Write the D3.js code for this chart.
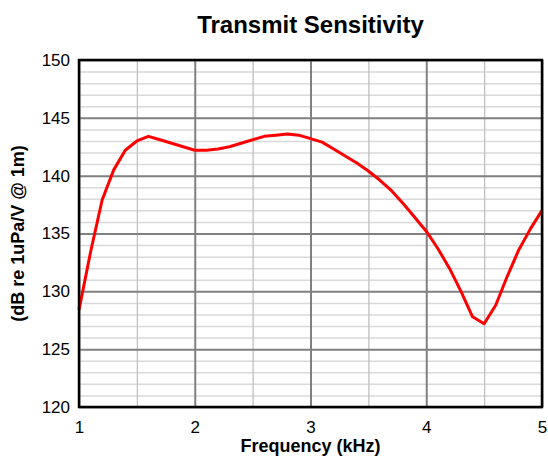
<!DOCTYPE html>
<html>
<head>
<meta charset="utf-8">
<script src="https://cdn.jsdelivr.net/npm/d3@7/dist/d3.min.js"></script>
<style>
  html, body { margin: 0; padding: 0; background: #fff; }
  svg { display: block; font-family: "Liberation Sans", Arial, Helvetica, sans-serif; }
</style>
</head>
<body>
<svg id="chart" width="548" height="457"></svg>
<script>
// ---- data ----
const frequencyKHz = [1.0,1.1,1.2,1.3,1.4,1.5,1.6,1.7,1.8,1.9,2.0,2.1,2.2,2.3,2.4,2.5,2.6,2.7,2.8,2.9,3.0,
                      3.1,3.2,3.3,3.4,3.5,3.6,3.7,3.8,3.9,4.0,4.1,4.2,4.3,4.4,4.5,4.6,4.7,4.8,4.9,5.0];
const sensitivityDB = [128.4,133.4,137.9,140.5,142.2,143.0,143.4,143.1,142.8,142.5,142.2,142.2,142.3,142.5,142.8,143.1,143.4,143.5,143.6,143.5,143.2,
                       142.9,142.3,141.7,141.1,140.4,139.6,138.7,137.6,136.4,135.2,133.7,132.0,130.0,127.8,127.2,128.8,131.3,133.6,135.4,137.0];
const xTicks = [1, 2, 3, 4, 5];
const xMinorTicks = [1.5, 2.5, 3.5, 4.5];
const yTicks = [120, 125, 130, 135, 140, 145, 150];
const yMinorTicks = d3.range(121, 150).filter(v => v % 5 !== 0);
const titleText = "Transmit Sensitivity";
const xLabel = "Frequency (kHz)";
const yLabel = "(dB re 1uPa/V @ 1m)";

// ---- layout ----
const svg = d3.select("#chart");
const pLeft = 79, pRight = 542, pTop = 60, pBottom = 407;

const x = d3.scaleLinear().domain([1, 5]).range([pLeft, pRight]);
const y = d3.scaleLinear().domain([120, 150]).range([pBottom, pTop]);

// minor horizontal grid
svg.append("g")
  .attr("transform", `translate(${pLeft},0)`)
  .call(d3.axisLeft(y).tickValues(yMinorTicks).tickSize(-(pRight - pLeft)).tickFormat(""))
  .call(g => g.select(".domain").remove())
  .call(g => g.selectAll("line").attr("stroke", "#d9d9d9").attr("stroke-width", 1.5));

// minor vertical grid
svg.append("g")
  .attr("transform", `translate(0,${pBottom})`)
  .call(d3.axisBottom(x).tickValues(xMinorTicks).tickSize(-(pBottom - pTop)).tickFormat(""))
  .call(g => g.select(".domain").remove())
  .call(g => g.selectAll("line").attr("stroke", "#c0c0c0").attr("stroke-width", 1.3));

// major horizontal grid
svg.append("g")
  .attr("transform", `translate(${pLeft},0)`)
  .call(d3.axisLeft(y).tickValues(yTicks).tickSize(-(pRight - pLeft)).tickFormat(""))
  .call(g => g.select(".domain").remove())
  .call(g => g.selectAll("line").attr("stroke", "#808080").attr("stroke-width", 2));

// major vertical grid
svg.append("g")
  .attr("transform", `translate(0,${pBottom})`)
  .call(d3.axisBottom(x).tickValues(xTicks).tickSize(-(pBottom - pTop)).tickFormat(""))
  .call(g => g.select(".domain").remove())
  .call(g => g.selectAll("line").attr("stroke", "#808080").attr("stroke-width", 2));

// curve
const line = d3.line()
  .x((d, i) => x(frequencyKHz[i]))
  .y(d => y(d));
svg.append("path")
  .datum(sensitivityDB)
  .attr("fill", "none")
  .attr("stroke", "#ff0000")
  .attr("stroke-width", 3)
  .attr("stroke-linejoin", "round")
  .attr("d", line);

// frame
svg.append("rect")
  .attr("x", pLeft).attr("y", pTop)
  .attr("width", pRight - pLeft).attr("height", pBottom - pTop)
  .attr("fill", "none").attr("stroke", "#000").attr("stroke-width", 2.5);

// y tick labels
svg.append("g")
  .attr("transform", `translate(${pLeft},0)`)
  .call(d3.axisLeft(y).tickValues(yTicks).tickSize(0).tickPadding(9).tickFormat(d3.format("d")))
  .call(g => g.select(".domain").remove())
  .call(g => g.selectAll("text").attr("font-size", 17).attr("fill", "#000")
            .attr("font-family", "Liberation Sans, Arial, sans-serif"));

// x tick labels
svg.append("g")
  .attr("transform", `translate(0,${pBottom})`)
  .call(d3.axisBottom(x).tickValues(xTicks).tickSize(0).tickPadding(14).tickFormat(d3.format("d")))
  .call(g => g.select(".domain").remove())
  .call(g => g.selectAll("text").attr("font-size", 17).attr("fill", "#000")
            .attr("font-family", "Liberation Sans, Arial, sans-serif"));

// title
svg.append("text")
  .attr("x", (pLeft + pRight) / 2).attr("y", 33)
  .attr("text-anchor", "middle")
  .attr("font-size", 24).attr("font-weight", "bold")
  .text(titleText);

// x axis label
svg.append("text")
  .attr("x", (pLeft + pRight) / 2).attr("y", 452)
  .attr("text-anchor", "middle")
  .attr("font-size", 18).attr("font-weight", "bold")
  .text(xLabel);

// y axis label
svg.append("text")
  .attr("transform", `translate(24,${(pTop + pBottom) / 2}) rotate(-90)`)
  .attr("text-anchor", "middle")
  .attr("font-size", 18).attr("font-weight", "bold")
  .text(yLabel);
</script>
</body>
</html>
